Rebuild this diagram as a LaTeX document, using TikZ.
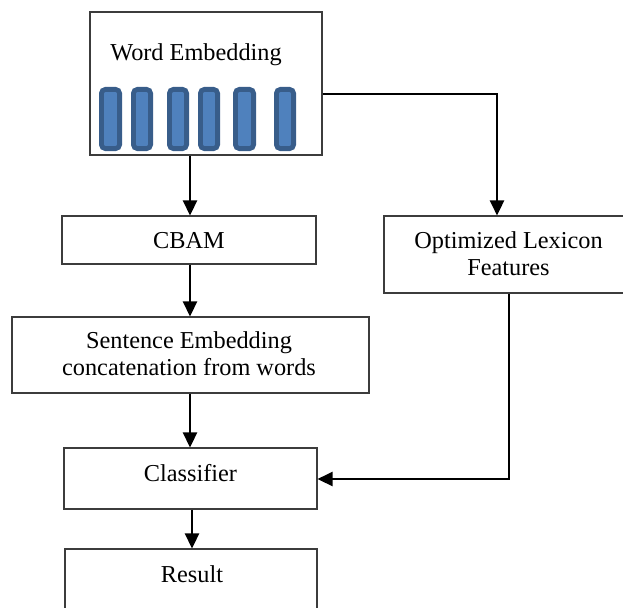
\documentclass[tikz,border=0pt]{standalone}
\usepackage{fontspec}
\setmainfont{Liberation Serif}
\usetikzlibrary{arrows.meta}
\definecolor{boxgray}{RGB}{60,60,60}
\definecolor{bardark}{RGB}{56,93,138}
\definecolor{barblue}{RGB}{79,129,189}
\begin{document}
\begin{tikzpicture}[x=1pt,y=-1pt,
  box/.style={draw=boxgray, line width=1.1pt, fill=white, inner sep=0pt},
  lbl/.style={font=\fontsize{24.3}{26.8}\selectfont, anchor=base, align=center, inner sep=0pt},
  flow/.style={line width=2.6pt, -{Triangle[length=15pt,width=14pt]}},
  bar/.style={draw=bardark, fill=barblue, line width=4.8pt, rounded corners=4pt}]
\useasboundingbox (0,0) rectangle (623,607);
\clip (0,0) rectangle (623,607);

% boxes
\node[box, minimum width=232pt, minimum height=143pt] (we)   at (206,83.5)  {};
\node[box, minimum width=254pt, minimum height=48pt]  (cbam) at (189,240)   {};
\node[box, minimum width=250pt, minimum height=77pt]  (opt)  at (509,254.5) {};
\node[box, minimum width=357pt, minimum height=76pt]  (sent) at (190.5,355) {};
\node[box, minimum width=253pt, minimum height=61pt]  (cls)  at (190.5,478.5) {};
\node[box, minimum width=252pt, minimum height=72pt]  (res)  at (191,585)   {};

% labels (base anchor sits on the last line)
\node[lbl] (tWe)   at (196,61)    {Word Embedding};
\node[lbl] (tCbam) at (189,248)   {CBAM};
\node[lbl] (tOpt)  at (508.5,275) {Optimized Lexicon\\Features};
\node[lbl] (tSent) at (189,375)   {Sentence Embedding\\concatenation from words};
\node[lbl] (tCls)  at (190.5,481) {Classifier};
\node[lbl] (tRes)  at (192,582)   {Result};

% word vectors
\foreach \a/\b in {99/122,131/153,167/189,198/220,233/256,274/296}
  \draw[bar] (\a+2.4,89.4) rectangle (\b-2.4,148.6);

% connectors
\coordinate (xa) at (190,0);
\coordinate (xb) at (192,0);
\coordinate (xc) at (497,0);
\coordinate (ya) at (0,94);
\coordinate (yb) at (0,479);
\draw[flow] (xa |- we.south)   -- (xa |- cbam.north);
\draw[flow] (xa |- cbam.south) -- (xa |- sent.north);
\draw[flow] (xa |- sent.south) -- (xa |- cls.north);
\draw[flow] (xb |- cls.south)  -- (xb |- res.north);
\draw[flow] (we.east |- ya) -| (xc |- opt.north);
\draw[flow] (opt.south) |- (cls.east |- yb);
\end{tikzpicture}
\end{document}
